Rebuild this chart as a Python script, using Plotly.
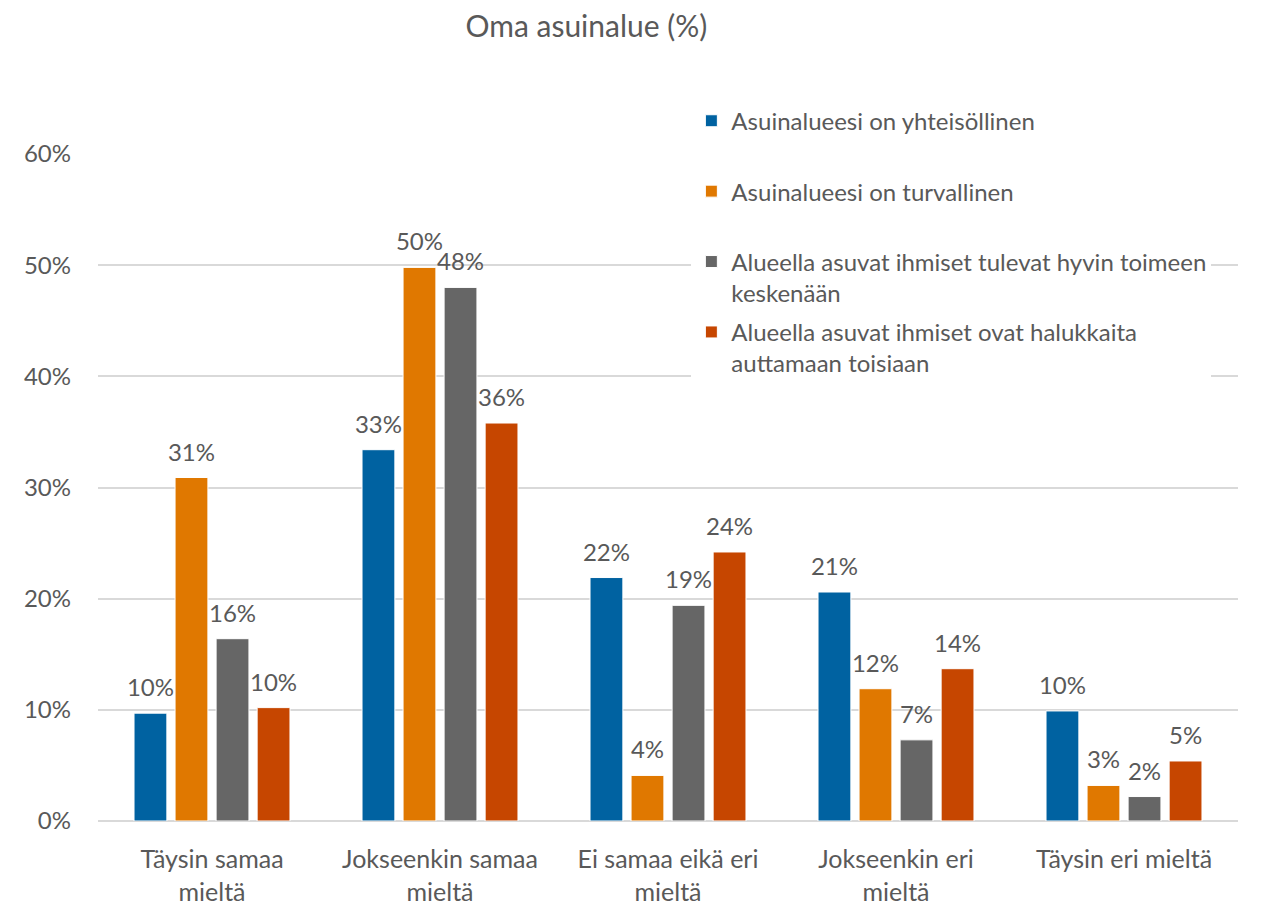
import plotly.graph_objects as go

categories = ["Täysin samaa<br>mieltä", "Jokseenkin samaa<br>mieltä", "Ei samaa eikä eri<br>mieltä",
              "Jokseenkin eri<br>mieltä", "Täysin eri mieltä"]
series_names = [
    "Asuinalueesi on yhteisöllinen<br>\u00a0",
    "Asuinalueesi on turvallinen<br>\u00a0",
    "Alueella asuvat ihmiset tulevat hyvin toimeen<br>keskenään",
    "Alueella asuvat ihmiset ovat halukkaita<br>auttamaan toisiaan",
]
yhteisollinen = [0.097, 0.334, 0.219, 0.206, 0.099]
turvallinen = [0.309, 0.498, 0.041, 0.119, 0.032]
toimeen = [0.164, 0.480, 0.194, 0.073, 0.022]
auttamaan = [0.102, 0.358, 0.242, 0.137, 0.054]
series_values = [yhteisollinen, turvallinen, toimeen, auttamaan]
colors = ["#0062A1", "#E07800", "#666666", "#C64600"]
y_ticks = [0, 0.1, 0.2, 0.3, 0.4, 0.5, 0.6]

FONT = "Lato"
TXT = "#595959"
BARGAP = 0.28

fig = go.Figure()
for i, (name, vals, col) in enumerate(zip(series_names, series_values, colors)):
    fig.add_trace(go.Bar(
        x=categories, y=vals, name=name, legendgroup=f"g{i}", offsetgroup=str(i),
        marker=dict(color=col, line=dict(color="white", width=1)),
    ))
for i, vals in enumerate(series_values):
    fig.add_trace(go.Scatter(
        x=categories, y=vals, mode="markers+text", legendgroup=f"g{i}", showlegend=False,
        offsetgroup=str(i), marker=dict(size=16, opacity=0), hoverinfo="skip",
        texttemplate="%{y:.0%}", textposition="top center", cliponaxis=False,
        textfont=dict(family=FONT, size=24, color=TXT),
    ))

fig.update_layout(
    width=1263, height=903,
    paper_bgcolor="white", plot_bgcolor="white",
    margin=dict(l=90, r=33, t=146, b=90),
    barmode="group", bargap=BARGAP, bargroupgap=0.2,
    scattermode="group", scattergap=BARGAP,
    font=dict(family=FONT, color=TXT, size=24),
    title=dict(text="Oma asuinalue (%)", x=0.458, xanchor="center", y=0.979, yanchor="middle",
               font=dict(family=FONT, size=30, color=TXT)),
    legend=dict(x=0.5205, xanchor="left", y=1.083, yanchor="top", bgcolor="white",
                valign="top", tracegroupgap=5,
                font=dict(family=FONT, size=24, color=TXT)),
    xaxis=dict(showgrid=False, showline=False, ticks="", ticklabelstandoff=21, automargin=False,
               tickfont=dict(size=25, color=TXT)),
    yaxis=dict(range=[0, 0.6], tickvals=y_ticks, tickformat=".0%", showgrid=True, automargin=False,
               gridcolor="#D9D9D9", gridwidth=1.5, zeroline=True, zerolinecolor="#D9D9D9",
               zerolinewidth=1.5, ticklabelstandoff=26, tickfont=dict(size=24, color=TXT)),
)

fig.write_html("out.html")
